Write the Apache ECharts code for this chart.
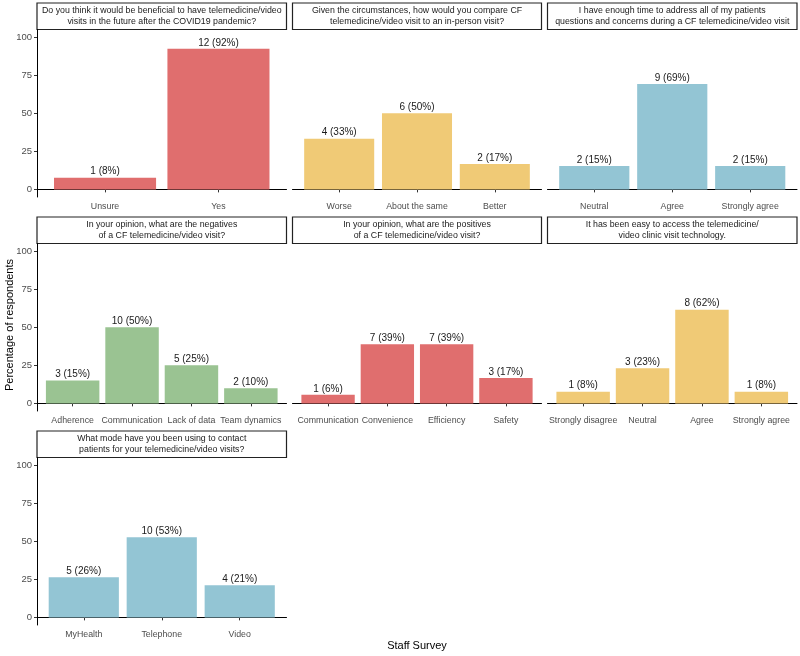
<!DOCTYPE html>
<html>
<head>
<meta charset="utf-8">
<script src="https://cdn.jsdelivr.net/npm/echarts@6/dist/echarts.min.js"></script>
<style>
html,body{margin:0;padding:0;background:#fff;}
#main{width:800px;height:656px;}
</style>
</head>
<body>
<div id="main"></div>
<script>
// survey answers, one set of arrays per question
var q1Cats = ['Unsure', 'Yes'];
var q1Counts = [1, 12];
var q1Pct = [7.7, 92.3];

var q2Cats = ['Worse', 'About the same', 'Better'];
var q2Counts = [4, 6, 2];
var q2Pct = [33.3, 50, 16.7];

var q3Cats = ['Neutral', 'Agree', 'Strongly agree'];
var q3Counts = [2, 9, 2];
var q3Pct = [15.4, 69.2, 15.4];

var q4Cats = ['Adherence', 'Communication', 'Lack of data', 'Team dynamics'];
var q4Counts = [3, 10, 5, 2];
var q4Pct = [15, 50, 25, 10];

var q5Cats = ['Communication', 'Convenience', 'Efficiency', 'Safety'];
var q5Counts = [1, 7, 7, 3];
var q5Pct = [5.6, 38.9, 38.9, 16.7];

var q6Cats = ['Strongly disagree', 'Neutral', 'Agree', 'Strongly agree'];
var q6Counts = [1, 3, 8, 1];
var q6Pct = [7.7, 23.1, 61.5, 7.7];

var q7Cats = ['MyHealth', 'Telephone', 'Video'];
var q7Counts = [5, 10, 4];
var q7Pct = [26.3, 52.6, 21.1];

var yTicks = [0, 25, 50, 75, 100];

var red = '#E06E6E', yellow = '#F0CA76', blue = '#93C5D4', green = '#9AC392';

var panels = [
    {title: 'Do you think it would be beneficial to have telemedicine/video\nvisits in the future after the COVID19 pandemic?', cats: q1Cats, counts: q1Counts, pct: q1Pct, color: red, col: 0, row: 0},
    {title: 'Given the circumstances, how would you compare CF\ntelemedicine/video visit to an in-person visit?', cats: q2Cats, counts: q2Counts, pct: q2Pct, color: yellow, col: 1, row: 0},
    {title: 'I have enough time to address all of my patients\nquestions and concerns during a CF telemedicine/video visit', cats: q3Cats, counts: q3Counts, pct: q3Pct, color: blue, col: 2, row: 0},
    {title: 'In your opinion, what are the negatives\nof a CF telemedicine/video visit?', cats: q4Cats, counts: q4Counts, pct: q4Pct, color: green, col: 0, row: 1},
    {title: 'In your opinion, what are the positives\nof a CF telemedicine/video visit?', cats: q5Cats, counts: q5Counts, pct: q5Pct, color: red, col: 1, row: 1},
    {title: 'It has been easy to access the telemedicine/\nvideo clinic visit technology.', cats: q6Cats, counts: q6Counts, pct: q6Pct, color: yellow, col: 2, row: 1},
    {title: 'What mode have you been using to contact\npatients for your telemedicine/video visits?', cats: q7Cats, counts: q7Counts, pct: q7Pct, color: blue, col: 0, row: 2}
];

// layout (px)
var colLeft = [37, 292.5, 547.5];
var colRight = [286.5, 541.5, 797];
var rowTop = [29.5, 243.5, 457.5];
var plotH = 167.5;
var stripH = 26.5;
var font = '"Liberation Sans", Arial, sans-serif';

var grids = [], xAxes = [], yAxes = [], series = [], graphics = [];

panels.forEach(function (p, i) {
    var left = colLeft[p.col], w = colRight[p.col] - colLeft[p.col], top = rowTop[p.row];
    var n = p.cats.length;
    var idx = [];
    for (var k = 1; k <= n; k++) idx.push(k);

    grids.push({left: left, top: top, width: w, height: plotH, containLabel: false});

    xAxes.push({
        type: 'value',
        gridIndex: i,
        min: 0.4,
        max: n + 0.6,
        splitLine: {show: false},
        axisLine: {show: true, lineStyle: {color: '#000', width: 1}},
        axisTick: {show: true, customValues: idx, length: 3, lineStyle: {color: '#333'}},
        axisLabel: {
            customValues: idx,
            interval: 0,
            hideOverlap: false,
            margin: 5,
            color: '#4d4d4d',
            fontSize: 8.8,
            fontFamily: font,
            formatter: (function (cats) {
                return function (v) { return cats[Math.round(v) - 1]; };
            })(p.cats)
        }
    });

    yAxes.push({
        type: 'value',
        gridIndex: i,
        min: -5,
        max: 105,
        show: p.col === 0,
        splitLine: {show: false},
        axisLine: {show: true, lineStyle: {color: '#000', width: 1}},
        axisTick: {show: true, customValues: yTicks, length: 3, lineStyle: {color: '#333'}},
        axisLabel: {customValues: yTicks, margin: 5, color: '#4d4d4d', fontSize: 9.5, fontFamily: font}
    });

    series.push({
        type: 'bar',
        xAxisIndex: i,
        yAxisIndex: i,
        barWidth: 0.9 * w / (n + 0.2),
        itemStyle: {color: p.color},
        data: p.pct.map(function (v, j) { return [j + 1, v]; }),
        label: {
            show: true,
            position: 'top',
            distance: 1,
            fontSize: 10,
            fontFamily: font,
            color: '#1a1a1a',
            formatter: (function (counts, pct) {
                return function (d) {
                    return counts[d.dataIndex] + ' (' + Math.round(pct[d.dataIndex]) + '%)';
                };
            })(p.counts, p.pct)
        }
    });

    // facet strip
    graphics.push({
        type: 'rect',
        shape: {x: left, y: top - stripH, width: w, height: stripH},
        style: {fill: '#fff', stroke: '#222', lineWidth: 1.2}
    });
    graphics.push({
        type: 'text',
        x: left + w / 2,
        y: top - stripH / 2,
        style: {
            text: p.title,
            align: 'center',
            verticalAlign: 'middle',
            font: '8.8px ' + font,
            lineHeight: 10.5,
            fill: '#1a1a1a'
        }
    });
});

// axis titles
graphics.push({
    type: 'text',
    x: 10,
    y: 325,
    rotation: Math.PI / 2,
    style: {text: 'Percentage of respondents', align: 'center', verticalAlign: 'middle', font: '11px ' + font, fill: '#000'}
});
graphics.push({
    type: 'text',
    x: 417,
    y: 646,
    style: {text: 'Staff Survey', align: 'center', verticalAlign: 'middle', font: '11px ' + font, fill: '#000'}
});

var chart = echarts.init(document.getElementById('main'));
chart.setOption({
    animation: false,
    grid: grids,
    xAxis: xAxes,
    yAxis: yAxes,
    series: series,
    graphic: graphics
});
</script>
</body>
</html>
